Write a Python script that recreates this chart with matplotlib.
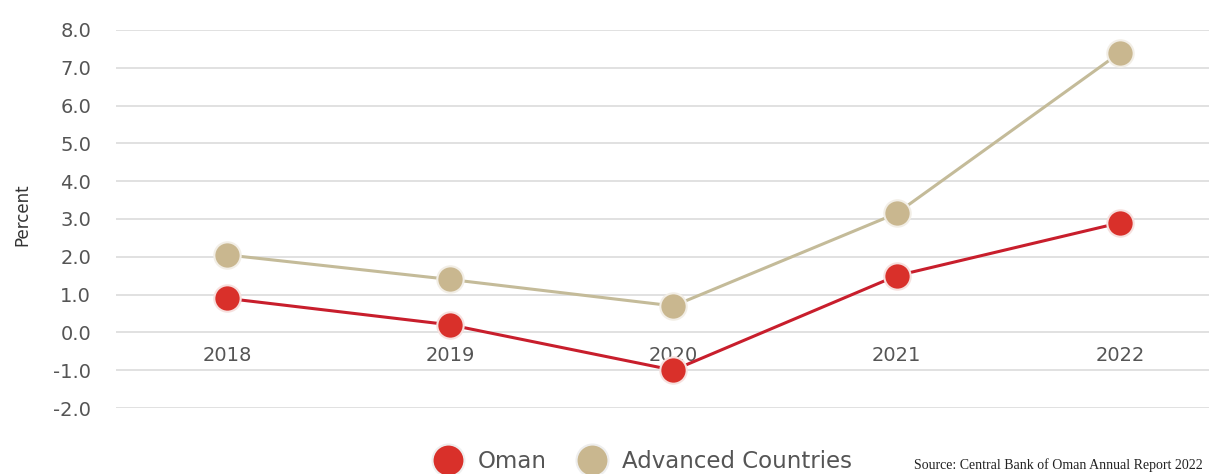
import matplotlib
matplotlib.use("Agg")
import matplotlib.pyplot as plt
from matplotlib.lines import Line2D

# Inflation, percent
years = ["2018", "2019", "2020", "2021", "2022"]
oman = [0.9, 0.2, -1.0, 1.5, 2.9]
advanced = [2.05, 1.4, 0.7, 3.15, 7.4]
y_ticks = [8.0, 7.0, 6.0, 5.0, 4.0, 3.0, 2.0, 1.0, 0.0, -1.0, -2.0]

RED = "#d9302a"
RED_LINE = "#c81e2c"
TAN = "#c9b78f"
TAN_LINE = "#c4bb99"
TEXT = "#555555"

W, H = 1209, 474
fig = plt.figure(figsize=(W / 100, H / 100), dpi=100)
ax = fig.add_axes([116 / W, (H - 408) / H, 1 - 116 / W, (408 - 30) / H])

x = list(range(len(years)))
ax.plot(x, advanced, color=TAN_LINE, lw=2.2, marker="o", ms=19,
        mfc=TAN, mec="#f2eee6", mew=1.5, zorder=3, clip_on=False)
ax.plot(x, oman, color=RED_LINE, lw=2.2, marker="o", ms=19,
        mfc=RED, mec="#f6e0de", mew=1.5, zorder=4, clip_on=False)

ax.set_xlim(-0.497, 4.399)
ax.set_ylim(-2, 8)
ax.set_yticks(y_ticks)
ax.set_yticklabels([f"{v:.1f}" for v in y_ticks], fontsize=14,
                   color=TEXT, family="DejaVu Sans")
ax.tick_params(axis="y", length=0, pad=18)
ax.set_xticks([])
ax.grid(axis="y", color="#d9d9d9", lw=1.1)
ax.set_axisbelow(True)
for s in ax.spines.values():
    s.set_visible(False)

for xi, lab in zip(x, years):
    ax.text(xi, -0.6, lab, ha="center", va="center", fontsize=14,
            color=TEXT, zorder=2)

fig.text(22 / W, 1 - 215 / H, "Percent", rotation=90, ha="center",
         va="center", fontsize=12,
         family=["Liberation Sans Narrow", "DejaVu Sans"], color="#333333")

handles = [
    Line2D([], [], ls="none", marker="o", ms=23, mfc=RED, mec="#eeeeee",
           mew=1.5, label="Oman"),
    Line2D([], [], ls="none", marker="o", ms=23, mfc=TAN, mec="#eeeeee",
           mew=1.5, label="Advanced Countries"),
]
leg = fig.legend(handles=handles, loc="center", ncol=2,
                 bbox_to_anchor=(643 / W, 1 - 462 / H), frameon=False,
                 fontsize=16.5, handletextpad=0.7, columnspacing=1.4,
                 handlelength=1.2, borderpad=0)
for t in leg.get_texts():
    t.set_color(TEXT)

fig.text(1203 / W, 1 - 465 / H, "Source: Central Bank of Oman Annual Report 2022",
         ha="right", va="center", fontsize=10, family="Liberation Serif",
         color="#222222")

fig.savefig("out.png", dpi=100)
